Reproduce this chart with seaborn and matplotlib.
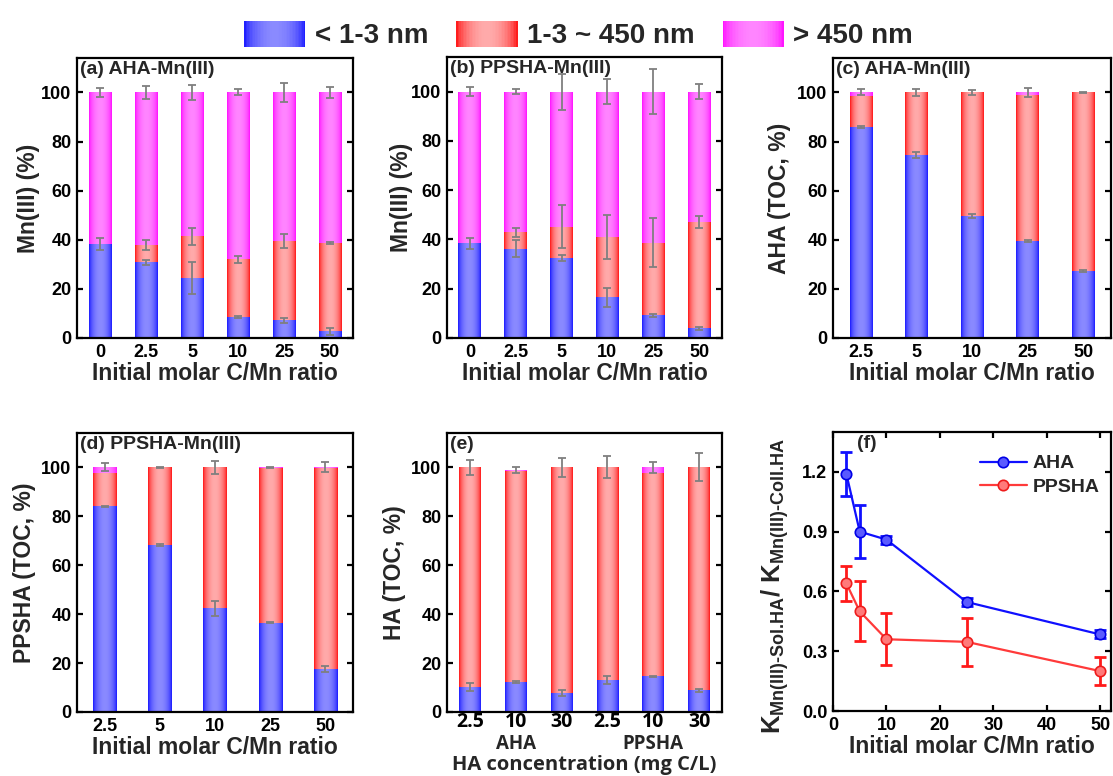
import numpy as np
import pandas as pd
import matplotlib
matplotlib.use("Agg")
import matplotlib.pyplot as plt
import seaborn as sns
from matplotlib.colors import LinearSegmentedColormap
from matplotlib.patches import Patch, Rectangle
from matplotlib.ticker import MultipleLocator, FormatStrFormatter

# ---------------- data ----------------
ratio6 = ["0", "2.5", "5", "10", "25", "50"]
ratio5 = ["2.5", "5", "10", "25", "50"]
conc_labels = ["2.5", "10", "30", "2.5 ", "10 ", "30 "]

# (a) AHA-Mn(III), Mn(III) %
a_small = [38.2, 30.8, 24.5, 8.4, 7.2, 2.7]
a_mid = [0.0, 7.1, 16.9, 23.7, 32.3, 36.0]
a_large = [61.8, 62.1, 58.6, 67.9, 60.5, 61.3]
a_err_small = [2.5, 0.9, 6.5, 0.4, 1.0, 1.4]
a_err_mid = [0.0, 2.0, 3.4, 1.4, 2.9, 0.3]
a_err_large = [1.8, 2.7, 3.2, 1.2, 3.9, 2.2]

# (b) PPSHA-Mn(III), Mn(III) %
b_small = [38.4, 36.2, 32.4, 16.5, 9.3, 3.9]
b_mid = [0.0, 6.7, 12.7, 24.6, 29.4, 43.1]
b_large = [61.6, 57.1, 54.9, 58.9, 61.3, 53.0]
b_err_small = [2.2, 3.5, 1.2, 3.8, 0.6, 0.6]
b_err_mid = [0.0, 1.9, 8.7, 8.9, 9.9, 2.4]
b_err_large = [2.0, 1.2, 7.3, 4.9, 9.3, 3.0]

# (c) AHA TOC %
c_small = [86.0, 74.5, 49.6, 39.4, 27.2]
c_mid = [12.6, 25.5, 50.4, 59.6, 72.8]
c_large = [1.4, 0.0, 0.0, 1.0, 0.0]
c_err_small = [0.3, 1.4, 0.7, 0.5, 0.3]
c_err_mid = [0.0, 0.0, 0.0, 0.0, 0.0]
c_err_large = [1.2, 1.5, 1.0, 1.7, 0.2]

# (d) PPSHA TOC %
d_small = [84.0, 68.2, 42.3, 36.5, 17.7]
d_mid = [13.7, 31.8, 57.7, 63.2, 81.9]
d_large = [2.3, 0.0, 0.0, 0.3, 0.4]
d_err_small = [0.3, 0.4, 2.9, 0.2, 1.3]
d_err_mid = [0.0, 0.0, 0.0, 0.0, 0.0]
d_err_large = [1.7, 0.2, 2.6, 0.2, 2.0]

# (e) HA TOC % vs HA concentration
e_small = [10.2, 12.2, 7.8, 13.1, 14.6, 8.8]
e_mid = [89.8, 86.2, 92.2, 86.9, 83.1, 91.2]
e_large = [0.0, 0.6, 0.0, 0.0, 2.3, 0.0]
e_err_small = [1.6, 0.3, 1.1, 1.7, 0.2, 0.7]
e_err_mid = [0.0, 0.0, 0.0, 0.0, 0.0, 0.0]
e_err_large = [3.0, 1.2, 3.8, 4.4, 2.2, 5.8]

# (f) K ratio
f_x = [2.5, 5, 10, 25, 50]
f_aha = [1.19, 0.90, 0.86, 0.547, 0.384]
f_aha_err = [0.11, 0.134, 0.02, 0.02, 0.02]
f_ppsha = [0.64, 0.50, 0.36, 0.347, 0.20]
f_ppsha_err = [0.09, 0.15, 0.13, 0.12, 0.07]

legend_labels = ["< 1-3 nm", "1-3 ~ 450 nm", "> 450 nm"]

# ---------------- style ----------------
sns.set_theme(style="ticks")
plt.rcParams["font.family"] = ["Liberation Sans", "DejaVu Sans"]
plt.rcParams["font.weight"] = "bold"
plt.rcParams["axes.labelweight"] = "bold"
plt.rcParams["mathtext.fontset"] = "custom"
plt.rcParams["mathtext.rm"] = "Liberation Sans:bold"
plt.rcParams["mathtext.it"] = "Liberation Sans:bold"
plt.rcParams["mathtext.bf"] = "Liberation Sans:bold"
plt.rcParams["mathtext.sf"] = "Liberation Sans:bold"

BLUE = ("#0a0aff", "#8a8aff")
RED = ("#ff0000", "#ffaaaa")
MAG = ("#ff00ff", "#ff85ff")


def make_cmap(c):
    return LinearSegmentedColormap.from_list("g", [c[0], c[1]])


CMAPS = [make_cmap(BLUE), make_cmap(RED), make_cmap(MAG)]
_t = np.linspace(0, 1, 256)
PROFILE = np.sin(np.pi * _t) ** 0.55
GRAD = PROFILE[None, :]

W, H = 1113, 776
fig = plt.figure(figsize=(W / 100, H / 100), dpi=100)


def rect(x0, x1, y0, y1):
    return [x0 / W, 1 - y1 / H, (x1 - x0) / W, (y1 - y0) / H]


TICK_FS = 13
LABEL_FS = 16.5


def style_axes(ax):
    for s in ax.spines.values():
        s.set_linewidth(1.6)
        s.set_color("black")
        s.set_visible(True)
    ax.tick_params(axis="both", direction="in", width=1.6, length=4.5,
                   labelsize=TICK_FS, pad=4, colors="black")
    for lab in ax.get_xticklabels() + ax.get_yticklabels():
        lab.set_fontweight("bold")


def stacked(ax, cats, small, mid, large, es, em, el, width, title, ylabel):
    cum1 = np.array(small)
    cum2 = cum1 + np.array(mid)
    cum3 = cum2 + np.array(large)
    layers = [(cum3, CMAPS[2], MAG[0]), (cum2, CMAPS[1], RED[0]), (cum1, CMAPS[0], BLUE[0])]
    for li, (vals, cmap, col) in enumerate(layers):
        n0 = len(ax.patches)
        df = pd.DataFrame({"cat": cats, "val": vals})
        sns.barplot(data=df, x="cat", y="val", order=cats, color=col,
                    width=width, errorbar=None, ax=ax, linewidth=0, saturation=1)
        z = 1 + 0.1 * li
        for p in ax.patches[n0:]:
            p.set_zorder(z)
            h = p.get_height()
            if h <= 0:
                continue
            x, y, w = p.get_x(), p.get_y(), p.get_width()
            im = ax.imshow(GRAD, extent=[x, x + w, y, y + h], aspect="auto",
                           cmap=cmap, vmin=0, vmax=1, zorder=z + 0.05,
                           interpolation="bilinear")
            im.set_clip_path(p)
    xs = np.arange(len(cats))
    for tops, errs in [(cum1, es), (cum2, em), (cum3, el)]:
        errs = np.array(errs)
        m = errs > 0
        ax.errorbar(xs[m], tops[m], yerr=errs[m], fmt="none", ecolor="#7f7f7f",
                    elinewidth=1.3, capsize=3, capthick=1.3, zorder=6)
    ax.set_xlim(-0.5, len(cats) - 0.5)
    ax.set_ylim(0, 114)
    ax.set_yticks([0, 20, 40, 60, 80, 100])
    ax.yaxis.set_ticks_position("both")
    ax.tick_params(axis="x", length=0, pad=3)
    ax.set_xlabel("Initial molar C/Mn ratio", fontsize=LABEL_FS, fontweight="bold")
    ax.set_ylabel(ylabel, fontsize=LABEL_FS, fontweight="bold")
    ax.text(0.01, 0.99, title, transform=ax.transAxes, ha="left", va="top",
            fontsize=14, fontweight="bold", zorder=10)
    style_axes(ax)
    ax.xaxis.set_label_coords(0.5, -0.085)


axa = fig.add_axes(rect(77, 353, 58, 338))
stacked(axa, ratio6, a_small, a_mid, a_large, a_err_small, a_err_mid, a_err_large,
        0.5, "(a) AHA-Mn(III)", "Mn(III) (%)")
axa.yaxis.set_label_coords(-0.135, 0.5)

axb = fig.add_axes(rect(447, 722, 57, 338))
stacked(axb, ratio6, b_small, b_mid, b_large, b_err_small, b_err_mid, b_err_large,
        0.5, "(b) PPSHA-Mn(III)", "Mn(III) (%)")
axb.yaxis.set_label_coords(-0.125, 0.5)

axc = fig.add_axes(rect(833, 1111, 58, 338))
stacked(axc, ratio5, c_small, c_mid, c_large, c_err_small, c_err_mid, c_err_large,
        0.4, "(c) AHA-Mn(III)", "AHA (TOC, %)")
axc.yaxis.set_label_coords(-0.15, 0.5)

axd = fig.add_axes(rect(77, 353, 433, 712))
stacked(axd, ratio5, d_small, d_mid, d_large, d_err_small, d_err_mid, d_err_large,
        0.42, "(d) PPSHA-Mn(III)", "PPSHA (TOC, %)")
axd.yaxis.set_label_coords(-0.15, 0.5)

axe = fig.add_axes(rect(447, 722, 433, 712))
stacked(axe, conc_labels, e_small, e_mid, e_large, e_err_small, e_err_mid, e_err_large,
        0.47, "(e)", "HA (TOC, %)")
axe.yaxis.set_label_coords(-0.15, 0.5)
axe.set_xlabel("")
axe.set_xticks(range(6))
axe.set_xticklabels([s.strip() for s in conc_labels], fontfamily="Open Sans",
                    fontweight="bold", fontsize=14)
axe.tick_params(axis="x", pad=0)
for xi, grp in [(1, "AHA"), (4, "PPSHA")]:
    axe.text(xi, -0.08, grp, transform=axe.get_xaxis_transform(), ha="center",
             va="top", fontsize=13.5, fontweight="bold", fontfamily="Open Sans")
axe.text(0.5, -0.155, "HA concentration (mg C/L)", transform=axe.transAxes,
         ha="center", va="top", fontsize=14.5, fontweight="bold", fontfamily="Open Sans")

# (f)
axf = fig.add_axes(rect(833, 1111, 432, 711))
dff = pd.DataFrame({"x": f_x * 2, "y": f_aha + f_ppsha,
                    "HA": ["AHA"] * 5 + ["PPSHA"] * 5})
sns.lineplot(data=dff, x="x", y="y", hue="HA", palette={"AHA": "#1010ff", "PPSHA": "#ff3a3a"},
             marker="o", markersize=7.5, linewidth=1.6, ax=axf, legend=False, zorder=3)
for ln, fc, ec in zip(axf.lines, ["#5a5aff", "#ff7a7a"], ["#0000e6", "#ee1c1c"]):
    ln.set_markerfacecolor(fc)
    ln.set_markeredgecolor(ec)
    ln.set_markeredgewidth(1.2)
axf.errorbar(f_x, f_aha, yerr=f_aha_err, fmt="none", ecolor="#1010ff", elinewidth=2,
             capsize=4, capthick=2, zorder=2)
axf.errorbar(f_x, f_ppsha, yerr=f_ppsha_err, fmt="none", ecolor="#ff1a1a", elinewidth=2,
             capsize=4, capthick=2, zorder=2)
axf.legend(handles=axf.lines[:2], labels=["AHA", "PPSHA"], loc="upper right",
           bbox_to_anchor=(1.0, 0.96), frameon=False, fontsize=14, handlelength=2.4,
           handletextpad=0.3, labelspacing=0.3, borderaxespad=0.2)
axf.set_xlim(0, 52)
axf.set_ylim(0, 1.4)
axf.xaxis.set_major_locator(MultipleLocator(10))
axf.yaxis.set_major_locator(MultipleLocator(0.3))
axf.yaxis.set_major_formatter(FormatStrFormatter("%.1f"))
axf.xaxis.set_ticks_position("both")
axf.yaxis.set_ticks_position("both")
axf.set_xlabel("Initial molar C/Mn ratio", fontsize=LABEL_FS, fontweight="bold")
axf.set_ylabel(r"K$_{\text{Mn(III)-Sol.HA}}$/ K$_{\text{Mn(III)-Coll.HA}}$",
               fontsize=18.5, fontweight="bold")
axf.text(0.085, 0.99, "(f)", transform=axf.transAxes, ha="left", va="top",
         fontsize=14, fontweight="bold")
style_axes(axf)
axf.xaxis.set_label_coords(0.5, -0.085)
axf.yaxis.set_label_coords(-0.15, 0.45)


# ---------------- top legend with gradient swatches ----------------
class GradHandler:
    def __init__(self, cmap, n=40):
        self.cmap = cmap
        self.n = n

    def legend_artist(self, legend, orig_handle, fontsize, handlebox):
        x0, y0 = handlebox.xdescent, handlebox.ydescent
        w, h = handlebox.width, handlebox.height
        dw = w / self.n
        first = None
        for i in range(self.n):
            t = (i + 0.5) / self.n
            v = np.sin(np.pi * t) ** 0.55
            r = Rectangle((-x0 + i * dw, -y0), dw * 1.05, h, facecolor=self.cmap(v),
                          edgecolor="none", linewidth=0,
                          transform=handlebox.get_transform())
            handlebox.add_artist(r)
            if first is None:
                first = r
        return first


handles = [Patch(color=BLUE[0]), Patch(color=RED[0]), Patch(color=MAG[0])]
hmap = {h: GradHandler(c) for h, c in zip(handles, CMAPS)}
fig.legend(handles=handles, labels=legend_labels, handler_map=hmap, loc="upper center",
           bbox_to_anchor=(0.52, 1.005), ncol=3, frameon=False, fontsize=20,
           handlelength=2.2, handleheight=1.05, columnspacing=1.0, handletextpad=0.35)

fig.savefig("out.png", dpi=100)
